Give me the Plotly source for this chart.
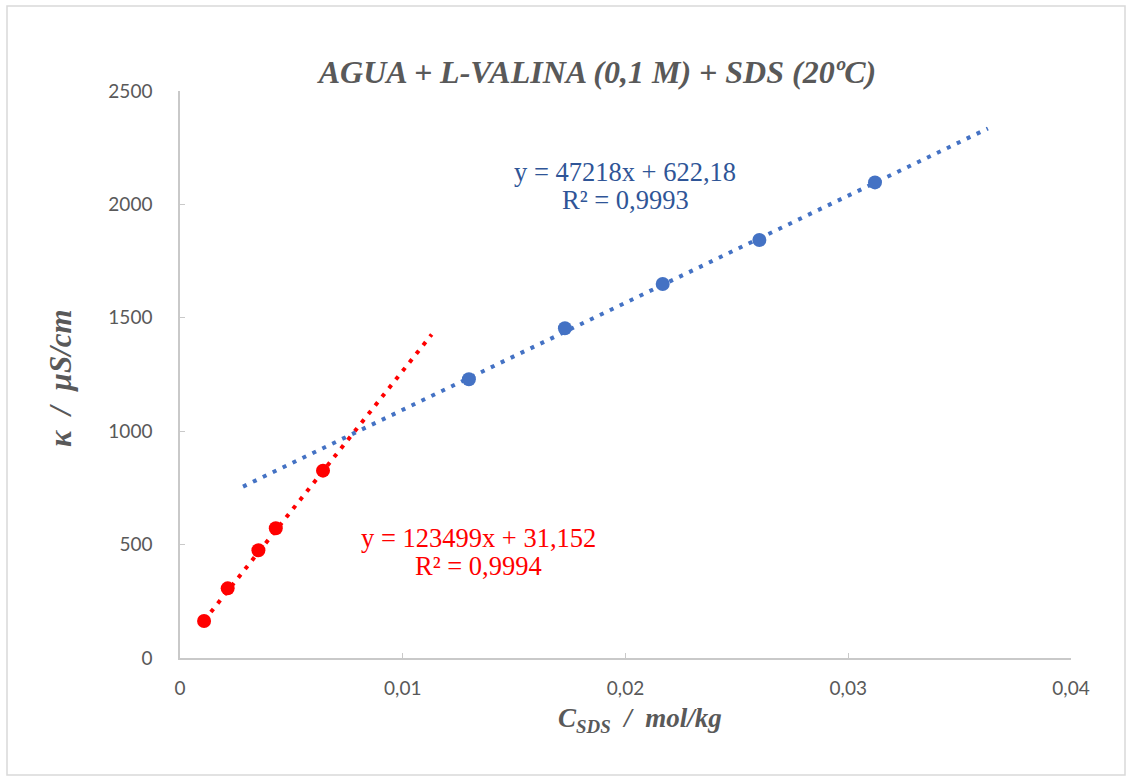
import numpy as np
import plotly.graph_objects as go

# --- data ---
red_x = [0.00108, 0.00214, 0.00352, 0.00430, 0.00642]
red_y = [163, 307, 475, 572, 826]
blue_x = [0.01297, 0.01728, 0.02167, 0.02601, 0.03120]
blue_y = [1229, 1454, 1649, 1843, 2097]

red_slope, red_intercept = 123499, 31.152
blue_slope, blue_intercept = 47218, 622.18
red_fit_range = [0.00108, 0.01130]
blue_fit_range = [0.00283, 0.03627]

red_eq = ["y = 123499x + 31,152", "R² = 0,9994"]
blue_eq = ["y = 47218x + 622,18", "R² = 0,9993"]

x_ticks = [0, 0.01, 0.02, 0.03, 0.04]
x_tick_text = ["0", "0,01", "0,02", "0,03", "0,04"]
y_ticks = [0, 500, 1000, 1500, 2000, 2500]

RED = "#FF0000"
BLUE = "#4472C4"
GRAY = "#595959"
SERIF = "Liberation Serif"
SANS = "Lato"

fig = go.Figure()

rfx = np.array(red_fit_range)
bfx = np.array(blue_fit_range)
fig.add_trace(go.Scatter(x=rfx, y=red_slope * rfx + red_intercept, mode="lines",
                         line=dict(color=RED, width=4, dash="4px,7px"), showlegend=False,
                         hoverinfo="skip"))
fig.add_trace(go.Scatter(x=bfx, y=blue_slope * bfx + blue_intercept, mode="lines",
                         line=dict(color=BLUE, width=4, dash="4px,7px"), showlegend=False,
                         hoverinfo="skip"))
fig.add_trace(go.Scatter(x=red_x, y=red_y, mode="markers",
                         marker=dict(color=RED, size=14), showlegend=False))
fig.add_trace(go.Scatter(x=blue_x, y=blue_y, mode="markers",
                         marker=dict(color=BLUE, size=14), showlegend=False))

# trendline equation labels (one annotation per line)
for txt, yv in zip(blue_eq, [2143, 2019]):
    fig.add_annotation(x=0.01998, y=yv, xref="x", yref="y", showarrow=False, text=txt,
                       font=dict(family=SERIF, size=26.5, color="#2F5597"))
for txt, yv in zip(red_eq, [529, 406]):
    fig.add_annotation(x=0.01338, y=yv, xref="x", yref="y", showarrow=False, text=txt,
                       font=dict(family=SERIF, size=26.5, color=RED))

# axis titles
fig.add_annotation(x=(640 - 180) / 891, y=(658 - 720) / 567, xref="paper", yref="paper",
                   xanchor="center", yanchor="middle",
                   showarrow=False, text="C<sub>SDS</sub>  /  mol/kg",
                   font=dict(family=SERIF, size=27, color=GRAY, weight="bold", style="italic"))
fig.add_annotation(x=(60 - 180) / 891, y=(658 - 378) / 567, xref="paper", yref="paper",
                   xanchor="center", yanchor="middle",
                   showarrow=False, text="κ  /  µS/cm", textangle=-90,
                   font=dict(family=SERIF, size=31, color=GRAY, weight="bold", style="italic"))

fig.add_shape(type="rect", xref="paper", yref="paper",
              x0=-173 / 891, x1=(1125 - 180) / 891,
              y0=(658 - 775) / 567, y1=(658 - 6) / 567,
              line=dict(color="#D9D9D9", width=1.5), fillcolor="rgba(0,0,0,0)", layer="below")

fig.update_layout(
    width=1133, height=782,
    margin=dict(l=180, r=62, t=91, b=124),
    paper_bgcolor="white", plot_bgcolor="white",
    separators=",.",
    title=dict(text="AGUA + L-VALINA (0,1 M) + SDS (20ºC)",
               x=(317 + 878) / 2 / 1133, xanchor="center", y=1 - 72 / 782, yanchor="middle",
               font=dict(family=SERIF, size=32, color=GRAY, weight="bold", style="italic")),
    xaxis=dict(range=[0, 0.04], tickvals=x_ticks, ticktext=x_tick_text,
               showgrid=False, zeroline=False, showline=True, linecolor="#C9C9C9", linewidth=1.5,
               ticks="inside", ticklen=5, tickcolor="#C9C9C9", ticklabelstandoff=12,
               tickfont=dict(family=SANS, size=19, color=GRAY)),
    yaxis=dict(range=[0, 2500], tickvals=y_ticks,
               showgrid=False, zeroline=False, showline=True, linecolor="#C9C9C9", linewidth=1.5,
               ticks="inside", ticklen=5, tickcolor="#C9C9C9", ticklabelstandoff=22,
               tickfont=dict(family=SANS, size=19, color=GRAY)),
)

fig.write_html("out.html")
